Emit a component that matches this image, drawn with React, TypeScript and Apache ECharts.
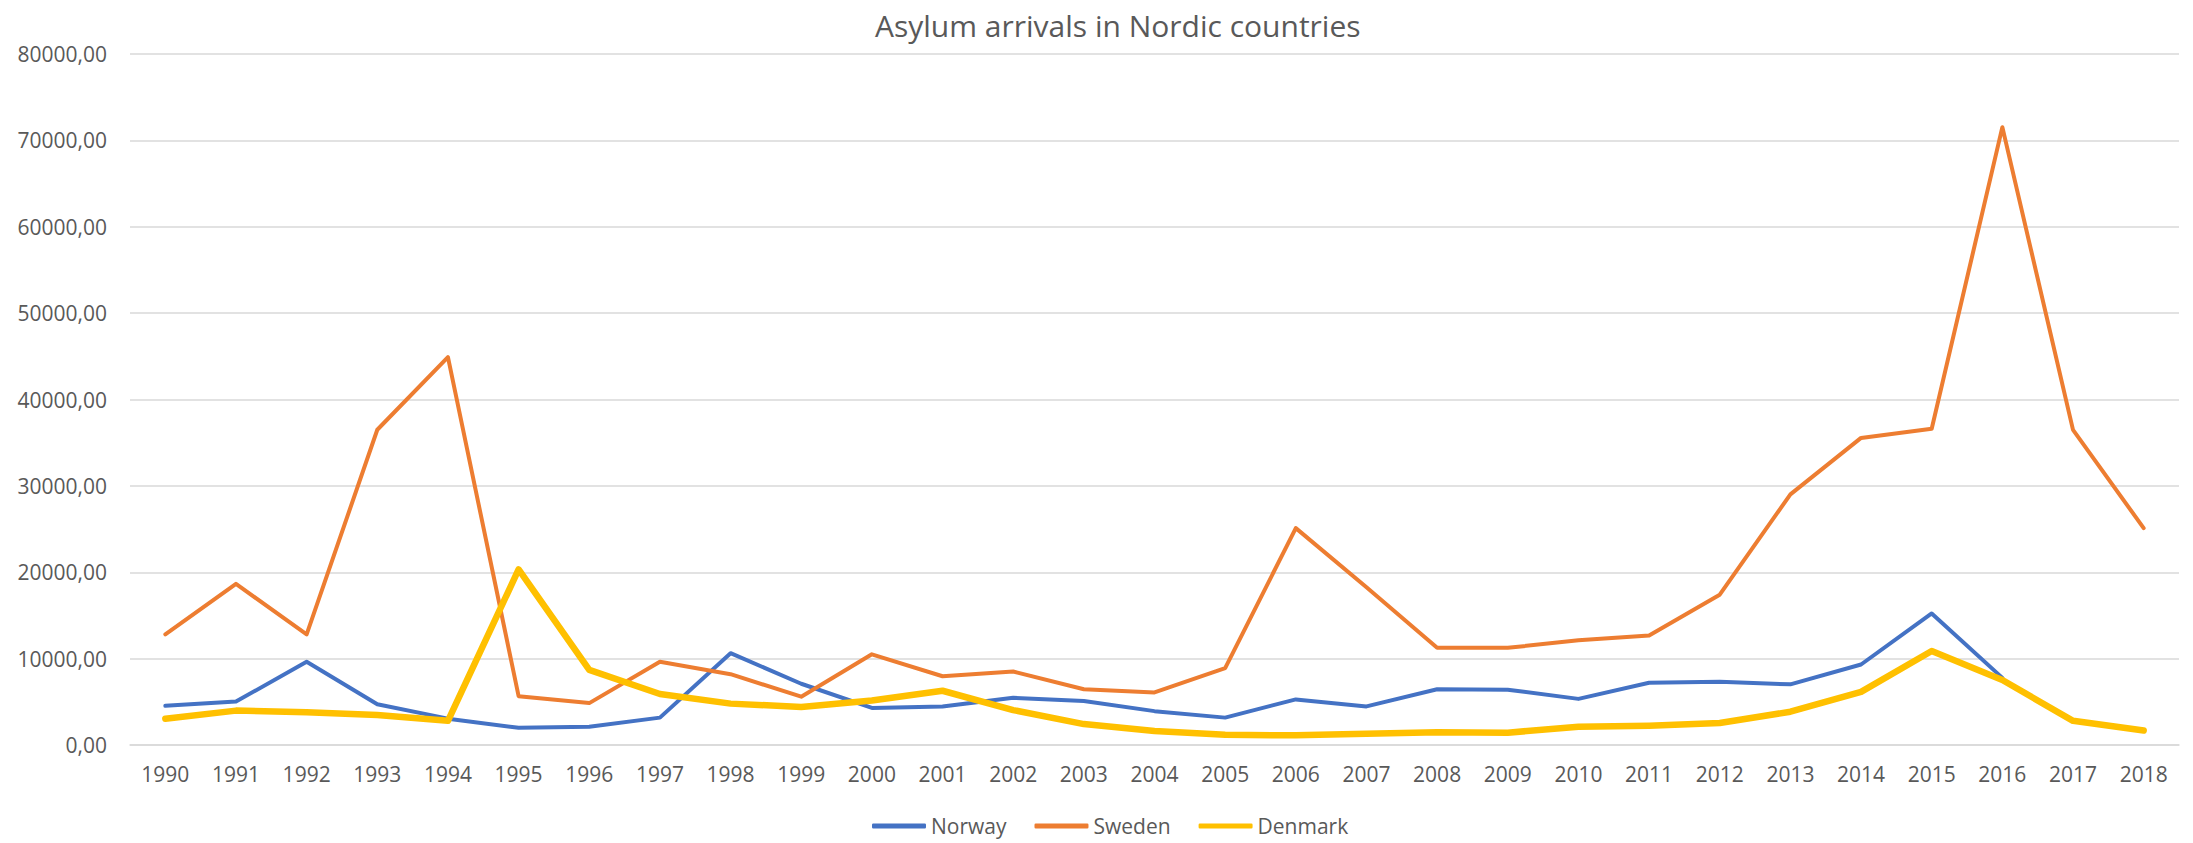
import React, { useEffect, useRef } from "react";
import * as echarts from "echarts";

const years = [
  "1990","1991","1992","1993","1994","1995","1996","1997","1998","1999",
  "2000","2001","2002","2003","2004","2005","2006","2007","2008","2009",
  "2010","2011","2012","2013","2014","2015","2016","2017","2018",
];

const norway: (number | null)[] = [
  4540, 5030, 9630, 4720, 3050, 1990, 2110, 3170, 10630, 7090,
  4290, 4470, 5470, 5100, 3920, 3170, 5280, 4470, 6460, 6400,
  5340, 7210, 7330, 7020, 9320, 15230, 7770, null, null,
];

const sweden: number[] = [
  12800, 18650, 12800, 36500, 44900, 5650, 4850, 9630, 8200, 5590,
  10500, 7960, 8510, 6460, 6090, 8890, 25110, 18270, 11250, 11250,
  12120, 12680, 17400, 29020, 35550, 36610, 71530, 36480, 25110,
];

const denmark: number[] = [
  3050, 3980, 3790, 3480, 2800, 20320, 8700, 5900, 4790, 4410,
  5160, 6280, 4040, 2420, 1620, 1180, 1120, 1300, 1490, 1430,
  2110, 2240, 2550, 3850, 6150, 10880, 7520, 2800, 1680,
];

const FONT = "'Open Sans', 'Noto Sans', sans-serif";
const GREY = "#595959";

export default function App() {
  const ref = useRef<HTMLDivElement>(null);

  useEffect(() => {
    document.body.style.margin = "0";
    if (!ref.current) return;
    const chart = echarts.init(ref.current, undefined, { renderer: "svg" });
    chart.setOption({
      animation: false,
      backgroundColor: "#ffffff",
      title: {
        text: "Asylum arrivals in Nordic countries",
        left: 870,
        top: 5,
        textStyle: { fontFamily: FONT, fontSize: 30, fontWeight: "normal", color: GREY },
      },
      legend: {
        top: 815,
        left: 872,
        padding: 0,
        icon: "roundRect",
        itemWidth: 54,
        itemHeight: 5,
        itemGap: 28,
        textStyle: { fontFamily: FONT, fontSize: 21, lineHeight: 22, color: GREY },
        data: ["Norway", "Sweden", "Denmark"],
      },
      grid: { left: 130, right: 14, top: 54, bottom: 98, containLabel: false },
      xAxis: {
        type: "category",
        data: years,
        boundaryGap: true,
        axisLine: { show: true, lineStyle: { color: "#d9d9d9", width: 1.5 } },
        axisTick: { show: false },
        axisLabel: { fontFamily: FONT, fontSize: 21, color: GREY, margin: 18, interval: 0 },
      },
      yAxis: {
        type: "value",
        min: 0,
        max: 80000,
        interval: 10000,
        axisLine: { show: false },
        axisTick: { show: false },
        splitLine: { lineStyle: { color: "#d9d9d9", width: 1.5 } },
        axisLabel: {
          fontFamily: FONT,
          fontSize: 21,
          color: GREY,
          margin: 23,
          formatter: (v: number) => `${v},00`,
        },
      },
      series: [
        {
          name: "Norway",
          type: "line",
          data: norway,
          showSymbol: false,
          symbol: "none",
          color: "#4472C4",
          lineStyle: { width: 4, color: "#4472C4", join: "round", cap: "round" },
        },
        {
          name: "Sweden",
          type: "line",
          data: sweden,
          showSymbol: false,
          symbol: "none",
          color: "#ED7D31",
          lineStyle: { width: 4, color: "#ED7D31", join: "round", cap: "round" },
        },
        {
          name: "Denmark",
          type: "line",
          data: denmark,
          showSymbol: false,
          symbol: "none",
          color: "#FFC000",
          lineStyle: { width: 6.5, color: "#FFC000", join: "round", cap: "round" },
        },
      ],
    });
    return () => chart.dispose();
  }, []);

  return <div ref={ref} style={{ width: 2193, height: 843 }} />;
}
